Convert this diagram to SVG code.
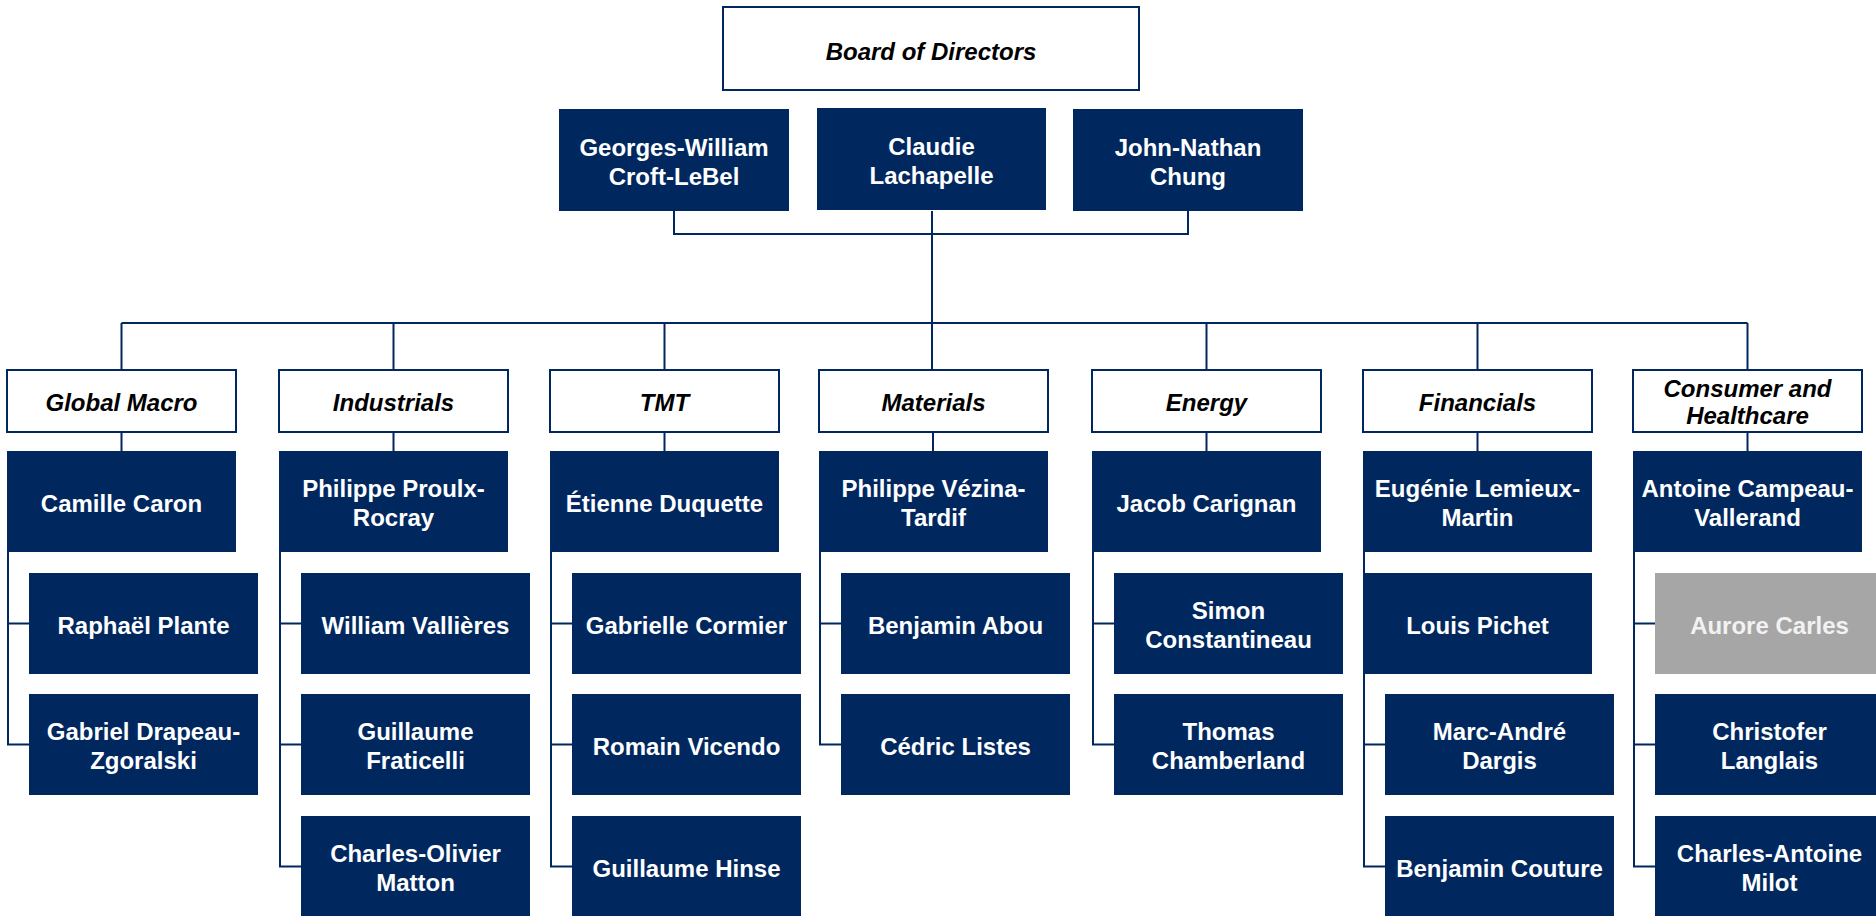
<svg xmlns="http://www.w3.org/2000/svg" width="1876" height="916" viewBox="0 0 1876 916">
<style>
.n{fill:#00285F}
.g{fill:#A6A6A6}
.w{fill:#FFFFFF;stroke:#00285F;stroke-width:2}
.t{font-family:"Liberation Sans",Arial,sans-serif;font-weight:bold;font-size:24px;fill:#FFFFFF;text-anchor:middle}
.tg{fill:#F2F2F2}
.ti{font-family:"Liberation Sans",Arial,sans-serif;font-weight:bold;font-style:italic;font-size:24px;fill:#000000;text-anchor:middle}
.c{stroke:#00285F;stroke-width:2;fill:none}
</style>
<rect width="1876" height="916" fill="#FFFFFF"/>
<g id="connectors">
<path class="c" d="M674 211V234H1188V211"/>
<path class="c" d="M932 211V370"/>
<path class="c" d="M121.5 323H1747.5"/>
<path class="c" d="M121.5 323V370M393.5 323V370M664.5 323V370M1206.5 323V370M1477.5 323V370M1747.5 323V370"/>
<path class="c" d="M121.5 432V451M393.5 432V451M664.5 432V451M933 432V451M1206.5 432V451M1477.5 432V451M1747.5 432V451"/>
<path class="c" d="M8 552V744.5H29M8 623.5H29"/>
<path class="c" d="M280 552V866.5H301M280 623.5H301M280 744.5H301"/>
<path class="c" d="M551 552V866.5H572M551 623.5H572M551 744.5H572"/>
<path class="c" d="M820 552V744.5H841M820 623.5H841"/>
<path class="c" d="M1093 552V744.5H1114M1093 623.5H1114"/>
<path class="c" d="M1364 552V866.5H1385M1364 744.5H1385"/>
<path class="c" d="M1634 552V866.5H1655M1634 623.5H1655M1634 744.5H1655"/>
</g>
<g id="board"><rect class="w" x="723" y="7" width="416" height="83"/><text class="ti" x="931" y="59.5">Board of Directors</text></g>
<g id="georges"><rect class="n" x="559" y="109" width="230" height="102"/><text class="t" x="674" y="155.5">Georges-William</text><text class="t" x="674" y="184.5">Croft-LeBel</text></g>
<g id="claudie"><rect class="n" x="817" y="108" width="229" height="102"/><text class="t" x="931.5" y="155">Claudie</text><text class="t" x="931.5" y="184">Lachapelle</text></g>
<g id="john"><rect class="n" x="1073" y="109" width="230" height="102"/><text class="t" x="1188" y="155.5">John-Nathan</text><text class="t" x="1188" y="184.5">Chung</text></g>

<g id="dept-global-macro"><rect class="w" x="7" y="370" width="229" height="62"/><text class="ti" x="121.5" y="410.5">Global Macro</text></g>
<g id="dept-industrials"><rect class="w" x="279" y="370" width="229" height="62"/><text class="ti" x="393.5" y="410.5">Industrials</text></g>
<g id="dept-tmt"><rect class="w" x="550" y="370" width="229" height="62"/><text class="ti" x="664.5" y="410.5">TMT</text></g>
<g id="dept-materials"><rect class="w" x="819" y="370" width="229" height="62"/><text class="ti" x="933.5" y="410.5">Materials</text></g>
<g id="dept-energy"><rect class="w" x="1092" y="370" width="229" height="62"/><text class="ti" x="1206.5" y="410.5">Energy</text></g>
<g id="dept-financials"><rect class="w" x="1363" y="370" width="229" height="62"/><text class="ti" x="1477.5" y="410.5">Financials</text></g>
<g id="dept-consumer"><rect class="w" x="1633" y="370" width="229" height="62"/><text class="ti" x="1747.5" y="396.5">Consumer and</text><text class="ti" x="1747.5" y="423.5">Healthcare</text></g>

<g id="camille"><rect class="n" x="7" y="451" width="229" height="101"/><text class="t" x="121.5" y="511.5">Camille Caron</text></g>
<g id="raphael"><rect class="n" x="29" y="573" width="229" height="101"/><text class="t" x="143.5" y="633.5">Raphaël Plante</text></g>
<g id="gabriel"><rect class="n" x="29" y="694" width="229" height="101"/><text class="t" x="143.5" y="739.5">Gabriel Drapeau-</text><text class="t" x="143.5" y="768.5">Zgoralski</text></g>

<g id="philippe-p"><rect class="n" x="279" y="451" width="229" height="101"/><text class="t" x="393.5" y="496.5">Philippe Proulx-</text><text class="t" x="393.5" y="525.5">Rocray</text></g>
<g id="william"><rect class="n" x="301" y="573" width="229" height="101"/><text class="t" x="415.5" y="633.5">William Vallières</text></g>
<g id="guillaume-f"><rect class="n" x="301" y="694" width="229" height="101"/><text class="t" x="415.5" y="739.5">Guillaume</text><text class="t" x="415.5" y="768.5">Fraticelli</text></g>
<g id="charles-o"><rect class="n" x="301" y="816" width="229" height="101"/><text class="t" x="415.5" y="861.5">Charles-Olivier</text><text class="t" x="415.5" y="890.5">Matton</text></g>

<g id="etienne"><rect class="n" x="550" y="451" width="229" height="101"/><text class="t" x="664.5" y="511.5">Étienne Duquette</text></g>
<g id="gabrielle"><rect class="n" x="572" y="573" width="229" height="101"/><text class="t" x="686.5" y="633.5">Gabrielle Cormier</text></g>
<g id="romain"><rect class="n" x="572" y="694" width="229" height="101"/><text class="t" x="686.5" y="754.5">Romain Vicendo</text></g>
<g id="guillaume-h"><rect class="n" x="572" y="816" width="229" height="101"/><text class="t" x="686.5" y="876.5">Guillaume Hinse</text></g>

<g id="philippe-v"><rect class="n" x="819" y="451" width="229" height="101"/><text class="t" x="933.5" y="496.5">Philippe Vézina-</text><text class="t" x="933.5" y="525.5">Tardif</text></g>
<g id="benjamin-a"><rect class="n" x="841" y="573" width="229" height="101"/><text class="t" x="955.5" y="633.5">Benjamin Abou</text></g>
<g id="cedric"><rect class="n" x="841" y="694" width="229" height="101"/><text class="t" x="955.5" y="754.5">Cédric Listes</text></g>

<g id="jacob"><rect class="n" x="1092" y="451" width="229" height="101"/><text class="t" x="1206.5" y="511.5">Jacob Carignan</text></g>
<g id="simon"><rect class="n" x="1114" y="573" width="229" height="101"/><text class="t" x="1228.5" y="618.5">Simon</text><text class="t" x="1228.5" y="647.5">Constantineau</text></g>
<g id="thomas"><rect class="n" x="1114" y="694" width="229" height="101"/><text class="t" x="1228.5" y="739.5">Thomas</text><text class="t" x="1228.5" y="768.5">Chamberland</text></g>

<g id="eugenie"><rect class="n" x="1363" y="451" width="229" height="101"/><text class="t" x="1477.5" y="496.5">Eugénie Lemieux-</text><text class="t" x="1477.5" y="525.5">Martin</text></g>
<g id="louis"><rect class="n" x="1363" y="573" width="229" height="101"/><text class="t" x="1477.5" y="633.5">Louis Pichet</text></g>
<g id="marc-andre"><rect class="n" x="1385" y="694" width="229" height="101"/><text class="t" x="1499.5" y="739.5">Marc-André</text><text class="t" x="1499.5" y="768.5">Dargis</text></g>
<g id="benjamin-c"><rect class="n" x="1385" y="816" width="229" height="101"/><text class="t" x="1499.5" y="876.5">Benjamin Couture</text></g>

<g id="antoine"><rect class="n" x="1633" y="451" width="229" height="101"/><text class="t" x="1747.5" y="496.5">Antoine Campeau-</text><text class="t" x="1747.5" y="525.5">Vallerand</text></g>
<g id="aurore"><rect class="g" x="1655" y="573" width="229" height="101"/><text class="t tg" x="1769.5" y="633.5">Aurore Carles</text></g>
<g id="christofer"><rect class="n" x="1655" y="694" width="229" height="101"/><text class="t" x="1769.5" y="739.5">Christofer</text><text class="t" x="1769.5" y="768.5">Langlais</text></g>
<g id="charles-a"><rect class="n" x="1655" y="816" width="229" height="101"/><text class="t" x="1769.5" y="861.5">Charles-Antoine</text><text class="t" x="1769.5" y="890.5">Milot</text></g>
</svg>
